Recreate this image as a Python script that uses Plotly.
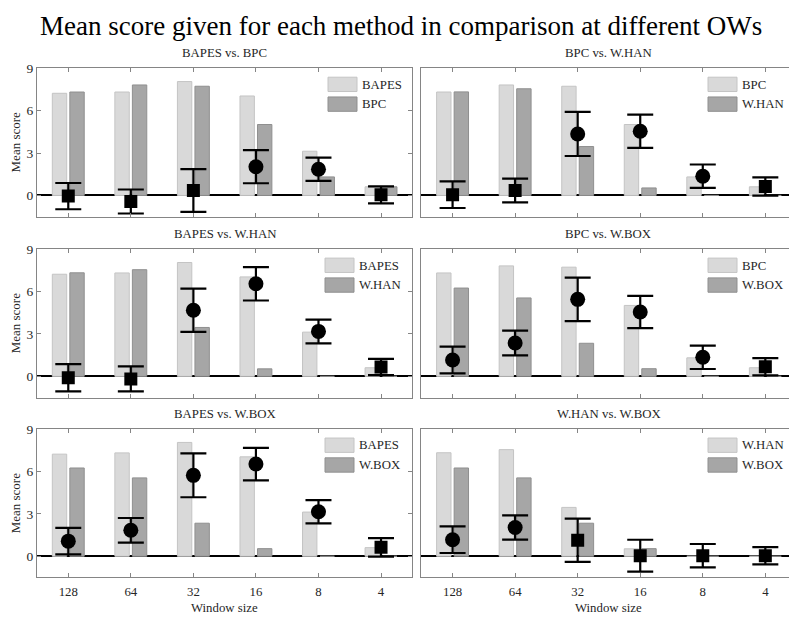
import plotly.graph_objects as go

# ---------------- data ----------------
window_labels = ["128", "64", "32", "16", "8", "4"]
positions = [1, 2, 3, 4, 5, 6]

panel_titles = ["BAPES vs. BPC", "BPC vs. W.HAN", "BAPES vs. W.HAN",
                "BPC vs. W.BOX", "BAPES vs. W.BOX", "W.HAN vs. W.BOX"]
method_a = ["BAPES", "BPC", "BAPES", "BPC", "BAPES", "W.HAN"]
method_b = ["BPC", "W.HAN", "W.HAN", "W.BOX", "W.BOX", "W.BOX"]

bapes_scores = [7.23, 7.32, 8.06, 7.04, 3.13, 0.61]
bpc_scores = [7.32, 7.82, 7.73, 5.02, 1.31, 0.61]
whan_scores = [7.33, 7.55, 3.46, 0.53, 0.0, 0.0]
wbox_scores = [6.25, 5.55, 2.34, 0.54, 0.0, 0.0]

diff_bapes_bpc = [-0.05, -0.43, 0.35, 2.03, 1.85, 0.04]
err_bapes_bpc = [0.93, 0.85, 1.51, 1.17, 0.82, 0.60]
sig_bapes_bpc = [False, False, False, True, True, False]

diff_bpc_whan = [0.05, 0.35, 4.35, 4.54, 1.36, 0.63]
err_bpc_whan = [0.94, 0.84, 1.56, 1.18, 0.83, 0.65]
sig_bpc_whan = [False, False, True, True, True, False]

diff_bapes_whan = [-0.10, -0.18, 4.68, 6.55, 3.18, 0.66]
err_bapes_whan = [0.96, 0.88, 1.53, 1.18, 0.84, 0.58]
sig_bapes_whan = [False, False, True, True, True, False]

diff_bpc_wbox = [1.16, 2.36, 5.45, 4.55, 1.35, 0.68]
err_bpc_wbox = [0.95, 0.87, 1.54, 1.14, 0.83, 0.61]
sig_bpc_wbox = [True, True, True, True, True, False]

diff_bapes_wbox = [1.07, 1.84, 5.73, 6.53, 3.15, 0.63]
err_bapes_wbox = [0.94, 0.87, 1.55, 1.15, 0.82, 0.65]
sig_bapes_wbox = [True, True, True, True, True, False]

diff_whan_wbox = [1.17, 2.04, 1.14, 0.04, 0.04, 0.04]
err_whan_wbox = [0.94, 0.86, 1.53, 1.13, 0.83, 0.61]
sig_whan_wbox = [True, True, False, False, False, False]

scores = {"BAPES": bapes_scores, "BPC": bpc_scores, "W.HAN": whan_scores, "W.BOX": wbox_scores}
diffs = [diff_bapes_bpc, diff_bpc_whan, diff_bapes_whan, diff_bpc_wbox, diff_bapes_wbox, diff_whan_wbox]
errs = [err_bapes_bpc, err_bpc_whan, err_bapes_whan, err_bpc_wbox, err_bapes_wbox, err_whan_wbox]
sigs = [sig_bapes_bpc, sig_bpc_whan, sig_bapes_whan, sig_bpc_wbox, sig_bapes_wbox, sig_whan_wbox]

# ---------------- layout helpers ----------------
W, H = 789, 617
FONT = "Liberation Serif, Times New Roman, serif"
LIGHT, LIGHT_EDGE = "#d9d9d9", "#c4c4c4"
DARK, DARK_EDGE = "#a6a6a6", "#8f8f8f"
AXC = "#858585"
TXT = "#262626"


def px(x):
    return x / W


def py(y):
    return 1 - y / H


col_dom = [(37.0, 412.3), (421.3, 789.0)]
row_dom = [(62.0, 212.0), (245.0, 395.0), (427.0, 577.0)]
unit_px = (412.3 - 37.0) / 6.0
x_ranges = [[0.5, 6.5], [0.5, 0.5 + (789.0 - 421.3) / unit_px]]
legend_x = [[328.0, 325.0, 325.0], [708.0, 708.0, 708.0]]

fig = go.Figure()
layout = dict(
    width=W, height=H, margin=dict(l=0, r=0, t=0, b=0),
    plot_bgcolor="white", paper_bgcolor="white",
    showlegend=False, barmode="overlay",
    font=dict(family=FONT, color=TXT, size=12),
)
annotations = []
shapes = []

for i in range(6):
    r, c = divmod(i, 2)
    k = i + 1
    xa = "x" if k == 1 else f"x{k}"
    ya = "y" if k == 1 else f"y{k}"
    a, b = method_a[i], method_b[i]

    fig.add_trace(go.Bar(x=positions, y=scores[a], width=0.23, offset=-0.255,
                         marker=dict(color=LIGHT, line=dict(color=LIGHT_EDGE, width=1)),
                         opacity=1, name=a, xaxis=xa, yaxis=ya))
    fig.add_trace(go.Bar(x=positions, y=scores[b], width=0.23, offset=0.025,
                         marker=dict(color=DARK, line=dict(color=DARK_EDGE, width=1)),
                         opacity=1, name=b, xaxis=xa, yaxis=ya))
    symbols = ["circle" if s else "square" for s in sigs[i]]
    sizes = [15 if s else 13 for s in sigs[i]]
    fig.add_trace(go.Scatter(x=positions, y=diffs[i], mode="markers",
                             marker=dict(symbol=symbols, size=sizes, color="black",
                                         opacity=1, line=dict(width=0)),
                             error_y=dict(type="data", array=errs[i], visible=True,
                                          color="black", thickness=2.2, width=13),
                             xaxis=xa, yaxis=ya))

    x0, x1 = col_dom[c]
    y0, y1 = row_dom[r]
    xkey = "xaxis" if k == 1 else f"xaxis{k}"
    ykey = "yaxis" if k == 1 else f"yaxis{k}"
    layout[xkey] = dict(
        domain=[px(x0), px(x1)], range=x_ranges[c], anchor=ya,
        tickmode="array", tickvals=positions, ticktext=window_labels,
        showticklabels=(r == 2), ticks="inside", ticklen=4, tickcolor=AXC,
        ticklabelstandoff=2,
        showline=True, linecolor=AXC, linewidth=1, mirror="ticks",
        showgrid=False, zeroline=False,
        tickfont=dict(family=FONT, size=12.8, color=TXT),
        fixedrange=True,
    )
    layout[ykey] = dict(
        domain=[py(y1), py(y0)], range=[-1.5, 9], anchor=xa,
        tickmode="array", tickvals=[0, 3, 6, 9],
        showticklabels=(c == 0), ticks="inside" if c == 0 else "", ticklen=4,
        tickcolor=AXC, showline=True, linecolor=AXC, linewidth=1,
        mirror="ticks" if c == 0 else False,
        showgrid=False, zeroline=True, zerolinecolor="black", zerolinewidth=2,
        tickfont=dict(family=FONT, size=13.5, color=TXT),
        fixedrange=True,
    )

    # panel title
    cx = (x0 + (x1 if c == 0 else 796.0)) / 2
    annotations.append(dict(text=panel_titles[i], x=px(cx), y=py(y0 - 15),
                            xref="paper", yref="paper", showarrow=False,
                            xanchor="center", yanchor="middle",
                            font=dict(family=FONT, size=12.8, color=TXT)))
    # legend swatches + labels
    lx = legend_x[c][r]
    for j, (name, fc, ec) in enumerate([(a, LIGHT, LIGHT_EDGE), (b, DARK, DARK_EDGE)]):
        sy0 = y0 + 9 + 20 * j
        shapes.append(dict(type="rect", xref="paper", yref="paper",
                           x0=px(lx), x1=px(lx + 29), y0=py(sy0 + 14.5), y1=py(sy0),
                           fillcolor=fc, line=dict(color=ec, width=1)))
        annotations.append(dict(text=name, x=px(lx + 31.5), y=py(sy0 + 7.5),
                                xref="paper", yref="paper", showarrow=False,
                                xanchor="left", yanchor="middle",
                                font=dict(family=FONT, size=12.8, color=TXT)))
    if c == 0:
        annotations.append(dict(text="Mean score", x=px(15), y=py((y0 + y1) / 2),
                                xref="paper", yref="paper", showarrow=False,
                                textangle=-90, xanchor="center", yanchor="middle",
                                font=dict(family=FONT, size=13, color=TXT)))
    if r == 2:
        annotations.append(dict(text="Window size", x=px(cx), y=py(608),
                                xref="paper", yref="paper", showarrow=False,
                                xanchor="center", yanchor="middle",
                                font=dict(family=FONT, size=12.8, color=TXT)))

annotations.append(dict(text="Mean score given for each method in comparison at different OWs",
                        x=px(401), y=py(19), xref="paper", yref="paper", showarrow=False,
                        xanchor="center", yanchor="middle",
                        font=dict(family=FONT, size=27, color="black")))

layout["annotations"] = annotations
layout["shapes"] = shapes
fig.update_layout(**layout)
fig.write_html("out.html")
